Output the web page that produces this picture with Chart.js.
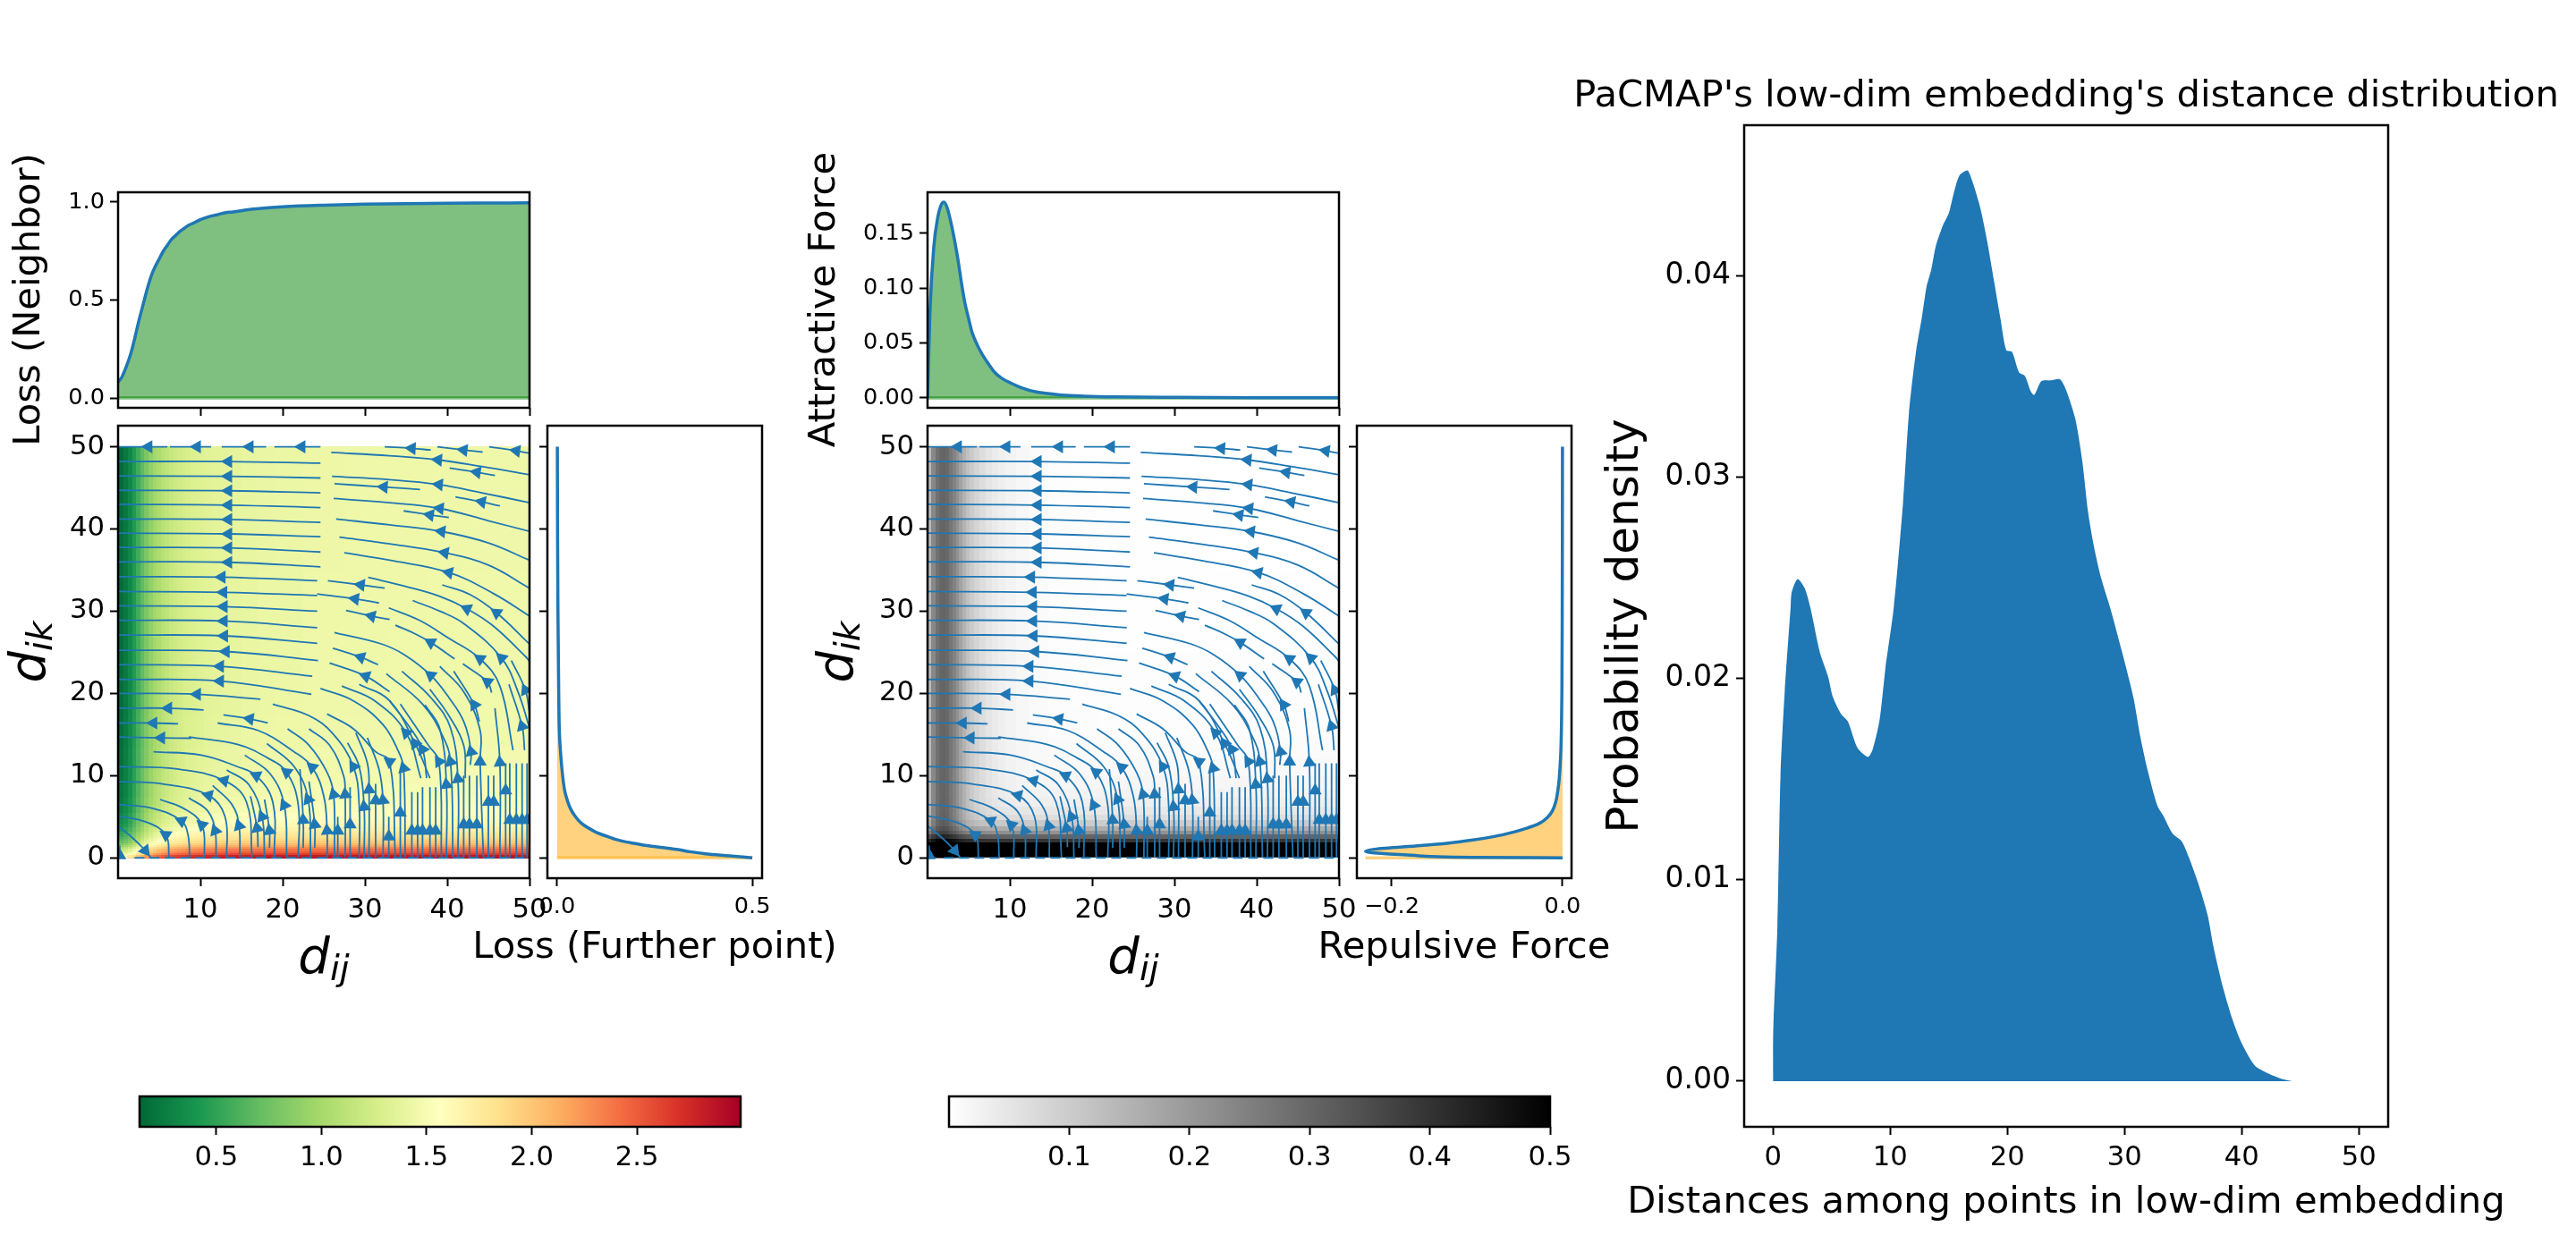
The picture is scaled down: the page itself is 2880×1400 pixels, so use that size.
<!DOCTYPE html>
<html>
<head>
<meta charset="utf-8">
<title>PaCMAP loss and force fields</title>
<script src="https://cdn.jsdelivr.net/npm/chart.js@4"></script>
<style>
    body { margin: 0; background: #fff; }
    #page { position: relative; width: 2880px; height: 1400px; overflow: hidden; }
    canvas { position: absolute; left: 0; top: 0; }
</style>
</head>
<body>
<div id="page"></div>
<script>
// marginal curves
const neighborX = [0, .5, 1, 1.5, 2, 2.5, 3, 3.5, 4, 4.5, 5, 5.5, 6, 6.5, 7, 7.5, 8, 8.5, 9, 9.5, 10, 11, 12, 13, 14, 16, 18, 20, 25, 30, 35, 40, 45, 50];
const neighborLoss = [.08, .11, .16, .22, .30, .39, .47, .55, .62, .67, .71, .75, .78, .81, .83, .85, .865, .88, .89, .90, .91, .925, .935, .945, .95, .962, .97, .976, .984, .989, .992, .994, .995, .996];

const furtherY = [0, .25, .5, .75, 1, 1.25, 1.5, 1.75, 2, 2.25, 2.5, 2.75, 3, 3.5, 4, 4.5, 5, 6, 7, 8, 10, 12, 15, 20, 25, 30, 40, 50];
const furtherLoss = [.5, .44, .38, .34, .31, .27, .23, .2, .17, .15, .135, .12, .105, .085, .068, .056, .047, .034, .026, .02, .014, .01, .006, .004, .003, .002, .001, .0005];

const attractiveX = [0, .3, .75, 1.25, 1.6, 2, 2.4, 2.9, 3.3, 3.7, 4.1, 4.5, 5, 5.4, 6, 6.7, 7.5, 8.2, 9, 10.1, 11.5, 13.2, 16.3, 19, 22.6, 30, 40, 50];
const attractiveForce = [0, .08, .137, .165, .175, .1785, .173, .158, .143, .126, .106, .088, .072, .06, .049, .039, .03, .023, .018, .0136, .009, .0054, .0027, .0017, .001, .0005, .0002, .0001];

const repulsiveY = [0, .07, .33, .6, .8, 1.05, 1.5, 1.8, 2.17, 2.6, 3.15, 3.6, 4.2, 5, 5.7, 6.8, 7.9, 9, 11, 13, 16.6, 20, 30, 40, 50];
const repulsiveForce = [0, -.105, -.178, -.22, -.2307, -.22, -.166, -.133, -.105, -.08, -.057, -.042, -.027, -.017, -.012, -.008, -.006, -.0045, -.003, -.002, -.0012, -.0008, -.0004, -.0002, -.0001];

// low-dim distance distribution
const distanceX = [0, 0, .375, .64, 1, 1.5, 1.6, 2.1, 2.7, 3.2, 4, 4.7, 5.1, 5.8, 6.4, 7.2, 8.1, 8.5, 9.1, 9.6, 10.3, 11.1, 11.6, 12.2, 12.7, 13.1, 13.5, 13.9, 14.5, 15, 15.4, 15.9, 16.6, 17, 17.7, 18.3, 18.9, 19.4, 19.9, 20.4, 21, 21.5, 22, 22.3, 22.9, 23.7, 24.5, 25, 25.8, 26.4, 26.9, 27.4, 28, 28.8, 29.8, 30.4, 30.8, 31.4, 32, 32.8, 33.3, 34.1, 34.9, 35.5, 36.3, 37.1, 37.6, 38.4, 39.2, 40, 41.1, 42.2, 43.5, 44.3];
const distanceDensity = [0, .0022, .00764, .01518, .01935, .0235, .0243, .02495, .0245, .0235, .0213, .0201, .0191, .01825, .01786, .01657, .01611, .01647, .01796, .02054, .0235, .02875, .03317, .03623, .03793, .03946, .04031, .0415, .04252, .04312, .04406, .04499, .04525, .04474, .04337, .04167, .03963, .03793, .03632, .03623, .03521, .03504, .03427, .0341, .03478, .03482, .03487, .03436, .03291, .03079, .02824, .02654, .025, .02347, .0213, .01994, .01895, .01696, .01538, .01369, .01319, .0123, .0119, .01111, .00982, .00823, .00665, .00466, .00308, .00188, .00079, .0004, .0001, 0];

// tick labels
const fieldTicks = [10, 20, 30, 40, 50];
const fieldYTicks = [0, 10, 20, 30, 40, 50];
const lossTopTicks = [0, .5, 1];
const lossSideTicks = [0, .5];
const forceTopTicks = [0, .05, .1, .15];
const forceSideTicks = [-.2, 0];
const lossBarTicks = [.5, 1, 1.5, 2, 2.5];
const forceBarTicks = [.1, .2, .3, .4, .5];
const distanceXTicks = [0, 10, 20, 30, 40, 50];
const distanceYTicks = [0, .01, .02, .03, .04];

// colour ranges
const rdYlGnR = ['#006837', '#1a9850', '#66bd63', '#a6d96a', '#d9ef8b', '#ffffbf', '#fee08b', '#fdae61', '#f46d43', '#d73027', '#a50026'];
const grays = ['#ffffff', '#000000'];
const lossRange = [.135, 2.993];
const forceRange = [0, .5];

// streamlines: [x, y, x, y, ...] running against the flow, and which of their points carry an arrow
const streamlines = [
    [[0, 50, 3.7, 50, 6, 50], [1]],
    [[6.3, 50, 9.6, 50, 11.3, 50], [1]],
    [[12.6, 50, 16, 50, 18, 50], [1]],
    [[19, 50, 22.3, 50, 24.6, 50], [1]],
    [[32.4, 50, 35.7, 49.8, 38, 49.6], [1]],
    [[38.8, 50, 42, 49.6, 44.3, 49.35], [1]],
    [[45.1, 50, 48.4, 49.5, 50, 49.2], [1]],
    [[0, 48.2, 13.4, 48.2, 24.6, 48], [1]],
    [[0, 46.45, 13.4, 46.4, 24.6, 46.2], [1]],
    [[0, 44.7, 13.4, 44.65, 24.6, 44.4], [1]],
    [[0, 43, 13.4, 42.9, 24.6, 42.6], [1]],
    [[0, 41.2, 13.4, 41.15, 24.6, 40.8], [1]],
    [[0, 39.5, 13.4, 39.4, 24.6, 39.05], [1]],
    [[0, 37.75, 13.4, 37.7, 24.6, 37.2], [1]],
    [[0, 36, 13.4, 35.95, 24.6, 35.4], [1]],
    [[0, 34.2, 12.6, 34.15, 24.2, 33.7], [1]],
    [[0, 32.4, 12.8, 32.3, 24.2, 31.9], [1]],
    [[0, 30.65, 12.85, 30.55, 24.2, 30], [1]],
    [[0, 28.9, 12.85, 28.8, 24.2, 28], [1]],
    [[0, 27.1, 12.9, 27, 24.2, 26.1], [1]],
    [[0, 25.25, 13.1, 25.1, 24.3, 24], [1]],
    [[0, 23.5, 12.4, 23.3, 23.6, 22.1], [1]],
    [[0, 21.7, 12.4, 21.5, 23.5, 19.9], [1]],
    [[0, 20, 9.6, 19.9, 17.3, 19.3], [1]],
    [[0, 18.2, 6.1, 18.2, 10.4, 18], [1]],
    [[12.8, 17.4, 16, 16.9, 18.2, 16.4], [1]],
    [[0, 16.4, 4.3, 16.4, 7.3, 16.3], [1]],
    [[0, 14.7, 5.25, 14.6, 8.9, 14.55], [1]],
    [[25.9, 49.3, 33, 48.9, 38.9, 48.4, 44.2, 47.6, 50, 46.6], [2]],
    [[40.3, 47.4, 43.6, 46.9, 45.8, 46.5], [1]],
    [[26, 46.4, 33, 46, 39, 45.4, 44.2, 44.4, 50, 43.2], [2]],
    [[26.3, 45.5, 32.3, 45.1, 36.7, 44.8], [1]],
    [[41, 43.9, 44.2, 43.3, 46.4, 42.8], [1]],
    [[26.2, 43.7, 33, 43.2, 39.1, 42.5, 45, 41, 50, 39.7], [2]],
    [[34.7, 42.2, 37.9, 41.7, 40.2, 41.4], [1]],
    [[26.5, 41.2, 33, 40.5, 39.3, 39.7, 45, 38.3, 50, 36.2], [2]],
    [[26.9, 39, 33, 38.2, 39.7, 37.1, 45, 35.6, 50, 32.8], [2]],
    [[27.5, 37.1, 33, 36.2, 40.2, 34.7, 45.7, 32.1, 50, 29.4], [2]],
    [[39.4, 33.2, 42.8, 32, 46, 29.8, 50, 26], [2]],
    [[30.4, 34.1, 35, 33, 39.1, 31.8, 42.4, 30.3, 45.6, 28.2, 49.5, 24.5, 50, 23.9], [3]],
    [[25.5, 33.7, 29.5, 33.2, 32.4, 32.8], [1]],
    [[24.2, 32.1, 28.8, 31.5, 31.7, 31], [1]],
    [[27.7, 30.1, 30.8, 29.4, 33, 29], [1]],
    [[35.8, 31.3, 39.1, 30, 42, 28.5, 46.6, 24.3, 48.6, 20.2, 50, 15.8], [3]],
    [[32.9, 30.4, 36.6, 28.9, 40.2, 26.7, 44, 24.2, 46.4, 20.9, 48, 13.1], [3]],
    [[33.7, 28.3, 36.2, 27.2, 38, 26.2, 40.9, 24.2], [2]],
    [[26.3, 27.4, 31.9, 26.05, 34.8, 24.7, 38, 22.2, 40.2, 19.5, 42, 16.6, 42.9, 12.9, 42.8, 11.3], [3, 6]],
    [[26.1, 25.5, 29.5, 24.4, 31.6, 23.5], [1]],
    [[25.7, 23.7, 30.1, 22.1, 33, 20.2], [1]],
    [[24.6, 20.6, 28.6, 19.1, 32.2, 16.2, 34.1, 12.9, 34.7, 10.9, 34.9, 0], [4]],
    [[27.2, 20.9, 31.2, 19.1, 35, 15.2, 36.8, 9.7], [2]],
    [[29.3, 21.1, 33, 19.1, 36.1, 13.9, 37.9, 9.7], [2]],
    [[32.6, 22.4, 37, 18.7, 39.5, 14.7, 40.4, 11.7, 40.7, 0], [3]],
    [[34.5, 22.7, 38, 19.5, 40.4, 15.8, 41.3, 9.6, 41.3, 0], [3]],
    [[33, 19.1, 35.5, 15.8, 37, 13.2, 37.5, 9.7], [2]],
    [[34.3, 18.7, 37.7, 13.7, 39, 11.7, 39.3, 0], [2]],
    [[37.3, 18.6, 39.1, 15.7, 39.9, 8.9, 39.9, 0], [2]],
    [[37.9, 20.5, 40.2, 17.3, 42, 13.7, 42.2, 9.7], []],
    [[39.1, 23.3, 42, 20.2, 44, 15.5, 44, 11.7, 44.4, 0], [3]],
    [[40.8, 22.7, 43.3, 18.6, 43.9, 16.6], [1]],
    [[41.9, 23.6, 44.9, 21.4, 45.4, 20.1], [1]],
    [[45.8, 18.2, 46.4, 11.6, 46.4, 0], [1]],
    [[47.5, 21.1, 49.1, 16, 49.4, 13.1], [1]],
    [[47.8, 24, 49.5, 20.4, 50, 17.6], [1]],
    [[0, 11.1, 7.2, 10.8, 12.9, 9.4, 15.6, 6.8, 16.3, 0], [2]],
    [[0, 9.3, 5.4, 9, 11, 7.6, 13, 5, 13.2, 0], [2]],
    [[0, 6.5, 4.3, 6, 7.7, 4.5, 8.5, 2.8, 8.7, 0], [2]],
    [[0, 5.1, 3.3, 4.4, 5.8, 2.8, 6.2, 0], [2]],
    [[4, 0, 3.3, .9, 1.8, 2.4, 0, 3.9], [1]],
    [[.2, 1.5, .2, .3, .2, 0], [1]],
    [[5.1, 7.1, 8, 6, 10.2, 4, 10.5, 0], [2]],
    [[8.6, 7.3, 10.9, 5.7, 11.8, 3.3, 11.9, 0], [2]],
    [[11.5, 8.8, 13.9, 6.4, 14.7, 3.9, 14.8, 0], [2]],
    [[13.2, 10.7, 15.9, 8.9, 17.5, 5, 17.8, 0], [2]],
    [[16.1, 7.5, 16.9, 3.6, 17, 1.3], [1]],
    [[17.8, 7.1, 18.4, 3.3, 18.4, 1.2], [1]],
    [[4.3, 12.9, 10.1, 12.5, 14.5, 11.1, 16.8, 10, 18.8, 6.8, 19, 0], [3]],
    [[8.6, 14.7, 14.5, 13.8, 18.1, 12.2, 20.5, 10.4, 21.9, 6.4, 21.9, 0], [3]],
    [[15.4, 12.5, 18.5, 10.2, 20.2, 6.4, 20.5, 0], [2]],
    [[18.1, 13.9, 21.4, 11.1, 23.1, 7.1, 23.4, 0], [2]],
    [[22.1, 10.8, 22.5, 4.6, 22.5, 1.2], [1]],
    [[23.2, 9.3, 23.9, 4.06, 23.9, 1.2], [1]],
    [[12.1, 16.4, 17, 15.5, 21.4, 12.9, 23.6, 11, 25, 7.5, 25.4, 3.3, 25.4, 0], [3, 5]],
    [[18.8, 18.7, 23.2, 17.3, 26.1, 15.1, 28.6, 11.1, 29.3, 6.4, 29.3, 0], [3]],
    [[20.6, 15.7, 23.2, 13.7, 25.4, 10.4, 26.2, 7.7, 26.3, 0], [3]],
    [[23.2, 15.7, 25.7, 13.7, 27.4, 10, 27.6, 7.7, 27.6, 0], [3]],
    [[25.4, 17.5, 28.6, 15.7, 31.3, 12.9, 33, 11.7, 33.7, 0], [3]],
    [[27.9, 14, 29.3, 11.1, 29.9, 6.2, 29.9, 0], [2]],
    [[28.9, 15.2, 30.3, 11.5, 30.5, 8.3, 30.5, 0], [2]],
    [[30.3, 14.6, 31.7, 10.8, 32.2, 7, 32.2, 0], [2]],
    [[26.7, 5, 26.7, 3.3, 26.7, 0], [1]],
    [[28.2, 8.6, 28.2, 4.06, 28.2, 0], [1]],
    [[31.3, 9, 31.3, 7, 31.3, 0], [1]],
    [[32.9, 5, 32.9, 2.6, 32.9, 0], [1]],
    [[34.3, 10.5, 34.3, 5.5, 34.3, 0], [1]],
    [[35.7, 8, 35.7, 3.3, 35.7, 0], [1]],
    [[36.4, 8, 36.4, 3.3, 36.4, 0], [1]],
    [[37, 8.6, 37, 3.3, 37, 0], [1]],
    [[37.9, 8.6, 37.9, 3.3, 37.9, 0], [1]],
    [[38.6, 8.6, 38.6, 3.3, 38.6, 0], [1]],
    [[42, 10, 42, 4.06, 42, 0], [1]],
    [[42.7, 10, 42.7, 4.06, 42.7, 0], [1]],
    [[43.6, 10, 43.6, 4.06, 43.6, 0], [1]],
    [[45, 10, 45, 6.8, 45, 0], [1]],
    [[45.65, 10, 45.65, 6.8, 45.65, 0], [1]],
    [[47.1, 11.5, 47.1, 8.2, 47.1, 0], [1]],
    [[47.6, 11.5, 47.6, 4.6, 47.6, 0], [1]],
    [[48.4, 11.5, 48.4, 4.6, 48.4, 0], [1]],
    [[49.1, 11.5, 49.1, 4.6, 49.1, 0], [1]],
    [[49.7, 11.5, 49.7, 4.6, 49.7, 0], [1]]
];

const BLUE = '#1f77b4';
const GREEN_FILL = 'rgba(0, 128, 0, 0.5)';
const ORANGE_FILL = 'rgba(255, 165, 0, 0.5)';
const FONT = '"DejaVu Sans"';
// room kept for each axis' tick marks and labels
const AXIS_W = 120;
const AXIS_H = 90;

const zip = (xs, ys) => xs.map((x, i) => ({ x: x, y: ys[i] }));

// mapping values on the marginal curves to heatmap cells
const lossValue = (n, f) => 1.45 * n + 3.2 * f;
const forceValue = (a, r) => Math.hypot(1.7 * a, 3.8 * r);

function parseHex(hex) {
    return [1, 3, 5].map(i => parseInt(hex.substr(i, 2), 16));
}

function colorAt(stops, range, v) {
    let t = (v - range[0]) / (range[1] - range[0]);
    t = Math.min(1, Math.max(0, t)) * (stops.length - 1);
    const i = Math.min(stops.length - 2, Math.floor(t));
    const a = parseHex(stops[i]), b = parseHex(stops[i + 1]);
    const c = a.map((u, k) => Math.round(u + (b[k] - u) * (t - i)));
    return `rgb(${c[0]},${c[1]},${c[2]})`;
}

function cellEdges(values) {
    const edges = [values[0]];
    for (let i = 1; i < values.length; i++) edges.push((values[i - 1] + values[i]) / 2);
    edges.push(values[values.length - 1]);
    return edges;
}

function heatPlugin(xs, ys, nValues, fValues, valueFn, stops, range) {
    return {
        id: 'heat',
        beforeDatasetsDraw(chart) {
            const { ctx, scales: { x, y } } = chart;
            const xe = cellEdges(xs), ye = cellEdges(ys);
            ctx.save();
            xs.forEach((_, i) => {
                const x0 = Math.floor(x.getPixelForValue(xe[i]));
                const x1 = Math.ceil(x.getPixelForValue(xe[i + 1]));
                ys.forEach((_, j) => {
                    const y0 = Math.floor(y.getPixelForValue(ye[j + 1]));
                    const y1 = Math.ceil(y.getPixelForValue(ye[j]));
                    ctx.fillStyle = colorAt(stops, range, valueFn(nValues[i], fValues[j]));
                    ctx.fillRect(x0, y0, x1 - x0, y1 - y0);
                });
            });
            ctx.restore();
        }
    };
}

function barPlugin(stops) {
    return {
        id: 'bar',
        beforeDatasetsDraw(chart) {
            const { ctx, chartArea: a, scales: { x } } = chart;
            const g = ctx.createLinearGradient(x.getPixelForValue(x.min), 0, x.getPixelForValue(x.max), 0);
            stops.forEach((c, i) => g.addColorStop(i / (stops.length - 1), c));
            ctx.fillStyle = g;
            ctx.fillRect(a.left, a.top, a.right - a.left, a.bottom - a.top);
        }
    };
}

const framePlugin = {
    id: 'frame',
    afterDatasetsDraw(chart) {
        const { ctx, chartArea: a } = chart;
        ctx.save();
        ctx.strokeStyle = '#000';
        ctx.lineWidth = 2.5;
        ctx.strokeRect(a.left, a.top, a.right - a.left, a.bottom - a.top);
        ctx.restore();
    }
};

// axis texts wider than their panel, which a scale title would squeeze
function textPlugin(items) {
    return {
        id: 'texts',
        afterDraw(chart) {
            const { ctx } = chart;
            items.forEach(t => {
                ctx.save();
                ctx.translate(t.x, t.y);
                ctx.rotate((t.rot || 0) * Math.PI / 180);
                ctx.fillStyle = '#000';
                ctx.textBaseline = t.sub ? 'alphabetic' : 'middle';
                if (t.sub) {
                    const big = `italic ${t.size}px ${FONT}`, small = `italic ${t.size * 0.7}px ${FONT}`;
                    ctx.font = big;
                    const w0 = ctx.measureText(t.text).width;
                    ctx.font = small;
                    const w1 = ctx.measureText(t.sub).width;
                    ctx.textAlign = 'left';
                    ctx.font = big;
                    ctx.fillText(t.text, -(w0 + w1) / 2, 0);
                    ctx.font = small;
                    ctx.fillText(t.sub, -(w0 + w1) / 2 + w0, t.size * 0.15);
                } else {
                    ctx.font = `${t.size}px ${FONT}`;
                    ctx.textAlign = 'center';
                    ctx.fillText(t.text, 0, 0);
                }
                ctx.restore();
            });
        }
    };
}

function scaleOptions(position, range, ticks, fmt, size, labelPad) {
    return {
        type: 'linear',
        position: position,
        min: range[0],
        max: range[1],
        afterBuildTicks: s => { s.ticks = ticks.map(v => ({ value: v })); },
        afterFit: s => { if (position === 'bottom') s.height = AXIS_H; else s.width = AXIS_W; },
        grid: { drawOnChartArea: false, drawTicks: true, tickLength: 9, tickWidth: 2, tickColor: '#000' },
        border: { display: false },
        ticks: {
            display: size > 0,
            autoSkip: false,
            maxRotation: 0,
            padding: labelPad,
            color: '#000',
            font: { family: FONT, size: size || 10 },
            callback: fmt
        }
    };
}

function addAxes(rect, opts) {
    const canvas = document.createElement('canvas');
    canvas.width = 2880;
    canvas.height = 1400;
    document.getElementById('page').appendChild(canvas);
    return new Chart(canvas.getContext('2d'), {
        type: 'line',
        data: { datasets: opts.datasets },
        options: {
            indexAxis: opts.indexAxis || 'x',
            responsive: false,
            animation: false,
            devicePixelRatio: 1,
            elements: { point: { radius: 0 } },
            layout: {
                padding: {
                    left: rect.left - (opts.y.display === false ? 0 : AXIS_W),
                    top: rect.top,
                    right: 2880 - rect.right,
                    bottom: 1400 - rect.bottom - AXIS_H
                }
            },
            plugins: { legend: { display: false }, tooltip: { enabled: false } },
            scales: { x: opts.x, y: opts.y }
        },
        plugins: (opts.plugins || []).concat(framePlugin)
    });
}

function streamDatasets() {
    const sets = [];
    const arrows = [], angles = [];
    streamlines.forEach(([flat, marks]) => {
        const pts = [];
        for (let i = 0; i < flat.length; i += 2) pts.push({ x: flat[i], y: flat[i + 1] });
        sets.push({ data: pts, borderColor: BLUE, borderWidth: 1.8, tension: 0.4, fill: false });
        marks.forEach(k => {
            arrows.push(pts[k]);
            angles.push(Math.atan2(pts[k - 1].x - pts[k].x, pts[k - 1].y - pts[k].y) * 180 / Math.PI);
        });
    });
    // first dataset is painted last
    sets.unshift({
        data: arrows, showLine: false, pointStyle: 'triangle', pointRadius: 8.5,
        pointRotation: angles, pointBackgroundColor: BLUE, pointBorderWidth: 0
    });
    sets.push({
        data: [{ x: 2, y: 0 }, { x: 50, y: 0 }], borderColor: BLUE, borderWidth: 2, borderDash: [11, 6]
    });
    return sets;
}

function curve(points, fillColor) {
    return {
        data: points, borderColor: BLUE, borderWidth: 3.5, cubicInterpolationMode: 'monotone',
        fill: { value: 0 }, backgroundColor: fillColor
    };
}

function strip(from, to, color) {
    return { data: [from, to], borderColor: color, borderWidth: 3.5, fill: false };
}

const fieldX = [0, 50];
const fieldY = [-2.47, 52.56];
const oneDecimal = v => v.toFixed(1);
const twoDecimals = v => v.toFixed(2);
const plainInt = v => String(v);
const minusDecimal = v => v.toFixed(1).replace('-', '\u2212');

const topBox = (l, r) => ({ left: l, right: r, top: 215, bottom: 456 });
const fieldBox = (l, r) => ({ left: l, right: r, top: 476, bottom: 982 });

// left group: loss
addAxes(topBox(132, 592), {
    datasets: [curve(zip(neighborX, neighborLoss), GREEN_FILL), strip({ x: 0, y: 0 }, { x: 50, y: 0 }, GREEN_FILL)],
    x: scaleOptions('bottom', fieldX, fieldTicks, plainInt, 0, 0),
    y: scaleOptions('left', [-.05, 1.05], lossTopTicks, oneDecimal, 25.6, 6),
    plugins: [textPlugin([{ text: 'Loss (Neighbor)', x: 33, y: 335, size: 41.7, rot: -90 }])]
});
addAxes(fieldBox(132, 592), {
    datasets: streamDatasets(),
    x: scaleOptions('bottom', fieldX, fieldTicks, plainInt, 30.7, 9),
    y: scaleOptions('left', fieldY, fieldYTicks, plainInt, 30.7, 6),
    plugins: [
        heatPlugin(neighborX, furtherY, neighborLoss, furtherLoss, lossValue, rdYlGnR, lossRange),
        textPlugin([
            { text: 'd', sub: 'ij', x: 362, y: 1088, size: 56 },
            { text: 'd', sub: 'ik', x: 50, y: 729, size: 56, rot: -90 }
        ])
    ]
});
addAxes({ left: 612, right: 852, top: 476, bottom: 982 }, {
    indexAxis: 'y',
    datasets: [curve(zip(furtherLoss, furtherY), ORANGE_FILL), strip({ x: 0, y: 0 }, { x: .5, y: 0 }, ORANGE_FILL)],
    x: scaleOptions('bottom', [-.025, .525], lossSideTicks, oneDecimal, 25.6, 8),
    y: scaleOptions('left', fieldY, fieldYTicks, plainInt, 0, 0),
    plugins: [textPlugin([{ text: 'Loss (Further point)', x: 732, y: 1060, size: 41.7 }])]
});

// middle group: forces
addAxes(topBox(1037, 1497), {
    datasets: [curve(zip(attractiveX, attractiveForce), GREEN_FILL), strip({ x: 0, y: 0 }, { x: 50, y: 0 }, GREEN_FILL)],
    x: scaleOptions('bottom', fieldX, fieldTicks, plainInt, 0, 0),
    y: scaleOptions('left', [-.009, .1875], forceTopTicks, twoDecimals, 25.6, 6),
    plugins: [textPlugin([{ text: 'Attractive Force', x: 922, y: 335, size: 41.7, rot: -90 }])]
});
addAxes(fieldBox(1037, 1497), {
    datasets: streamDatasets(),
    x: scaleOptions('bottom', fieldX, fieldTicks, plainInt, 30.7, 9),
    y: scaleOptions('left', fieldY, fieldYTicks, plainInt, 30.7, 6),
    plugins: [
        heatPlugin(attractiveX, repulsiveY, attractiveForce, repulsiveForce, forceValue, grays, forceRange),
        textPlugin([
            { text: 'd', sub: 'ij', x: 1267, y: 1088, size: 56 },
            { text: 'd', sub: 'ik', x: 953, y: 729, size: 56, rot: -90 }
        ])
    ]
});
addAxes({ left: 1517, right: 1757, top: 476, bottom: 982 }, {
    indexAxis: 'y',
    datasets: [curve(zip(repulsiveForce, repulsiveY), ORANGE_FILL), strip({ x: -.2307, y: 0 }, { x: 0, y: 0 }, ORANGE_FILL)],
    x: scaleOptions('bottom', [-.2408, .0105], forceSideTicks, minusDecimal, 25.6, 8),
    y: scaleOptions('left', fieldY, fieldYTicks, plainInt, 0, 0),
    plugins: [textPlugin([{ text: 'Repulsive Force', x: 1637, y: 1060, size: 41.7 }])]
});

// colour bars
addAxes({ left: 156, right: 828, top: 1226, bottom: 1260 }, {
    datasets: [],
    x: scaleOptions('bottom', lossRange, lossBarTicks, oneDecimal, 30.7, 8),
    y: { display: false },
    plugins: [barPlugin(rdYlGnR)]
});
addAxes({ left: 1061, right: 1733, top: 1226, bottom: 1260 }, {
    datasets: [],
    x: scaleOptions('bottom', forceRange, forceBarTicks, oneDecimal, 30.7, 8),
    y: { display: false },
    plugins: [barPlugin(grays)]
});

// right: distance distribution
addAxes({ left: 1950, right: 2670, top: 140, bottom: 1260 }, {
    datasets: [{
        data: zip(distanceX, distanceDensity), borderWidth: 0, tension: 0.25, fill: { value: 0 }, backgroundColor: BLUE
    }],
    x: scaleOptions('bottom', [-2.46, 52.5], distanceXTicks, plainInt, 30.7, 8),
    y: scaleOptions('left', [-.00227, .0475], distanceYTicks, twoDecimals, 33, 6),
    plugins: [textPlugin([
        { text: "PaCMAP's low-dim embedding's distance distribution", x: 2310, y: 108, size: 41.7 },
        { text: 'Distances among points in low-dim embedding', x: 2310, y: 1345, size: 41.7 },
        { text: 'Probability density', x: 1818, y: 700, size: 50, rot: -90 }
    ])]
});
</script>
</body>
</html>
